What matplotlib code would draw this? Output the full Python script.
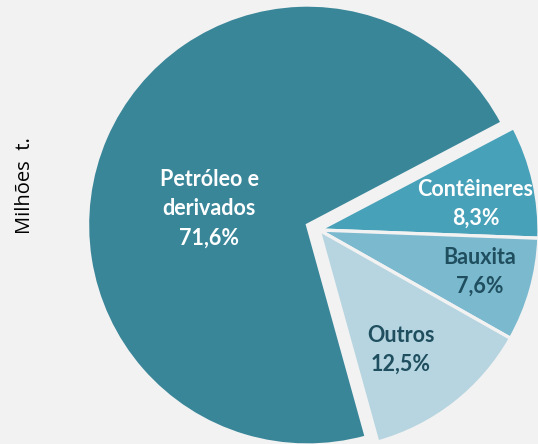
import matplotlib.pyplot as plt

categorias = ['Petróleo e\nderivados', 'Contêineres', 'Bauxita', 'Outros']
participacao = [71.6, 8.3, 7.6, 12.5]
cores = ['#3A8699', '#47A1B9', '#7BB9CF', '#B6D5E0']
cor_texto = ['white', 'white', '#1F4E5F', '#1F4E5F']

# raio da pizza e centro, em pixels da figura
raio = 220
cx, cy = 319, 230

# posicao dos rotulos (pixels)
pos_rotulos = [(209, 209), (475.5, 204), (480, 272), (400.5, 350)]

fundo = '#F2F2F2'
fig = plt.figure(figsize=(5.38, 4.44), dpi=100, facecolor=fundo)
ax = fig.add_axes([0, 0, 1, 1])
ax.set_facecolor(fundo)

wedges, texts = ax.pie(participacao, colors=cores, startangle=-74.5, counterclock=False,
                       explode=[12.5 / raio, 0, 0, 0],
                       wedgeprops=dict(edgecolor=fundo, linewidth=2.4))

for nome, v, c, p in zip(categorias, participacao, cor_texto, pos_rotulos):
    rotulo = nome + '\n' + ('%.1f' % v).replace('.', ',') + '%'
    ax.text((p[0] - cx) / raio, (cy - p[1]) / raio, rotulo, ha='center', va='center',
            color=c, fontsize=15.5, fontweight='bold', family='Lato', linespacing=1.48)

ax.set_xlim(-cx / raio, (538 - cx) / raio)
ax.set_ylim(-(444 - cy) / raio, cy / raio)
ax.set_aspect('equal')
ax.axis('off')

fig.text(25 / 538, 1 - 186 / 444, 'Milhões  t.', rotation=90, ha='center', va='center',
         fontsize=14.5, family='Open Sans')

plt.savefig('out.png', dpi=100, facecolor=fundo)
